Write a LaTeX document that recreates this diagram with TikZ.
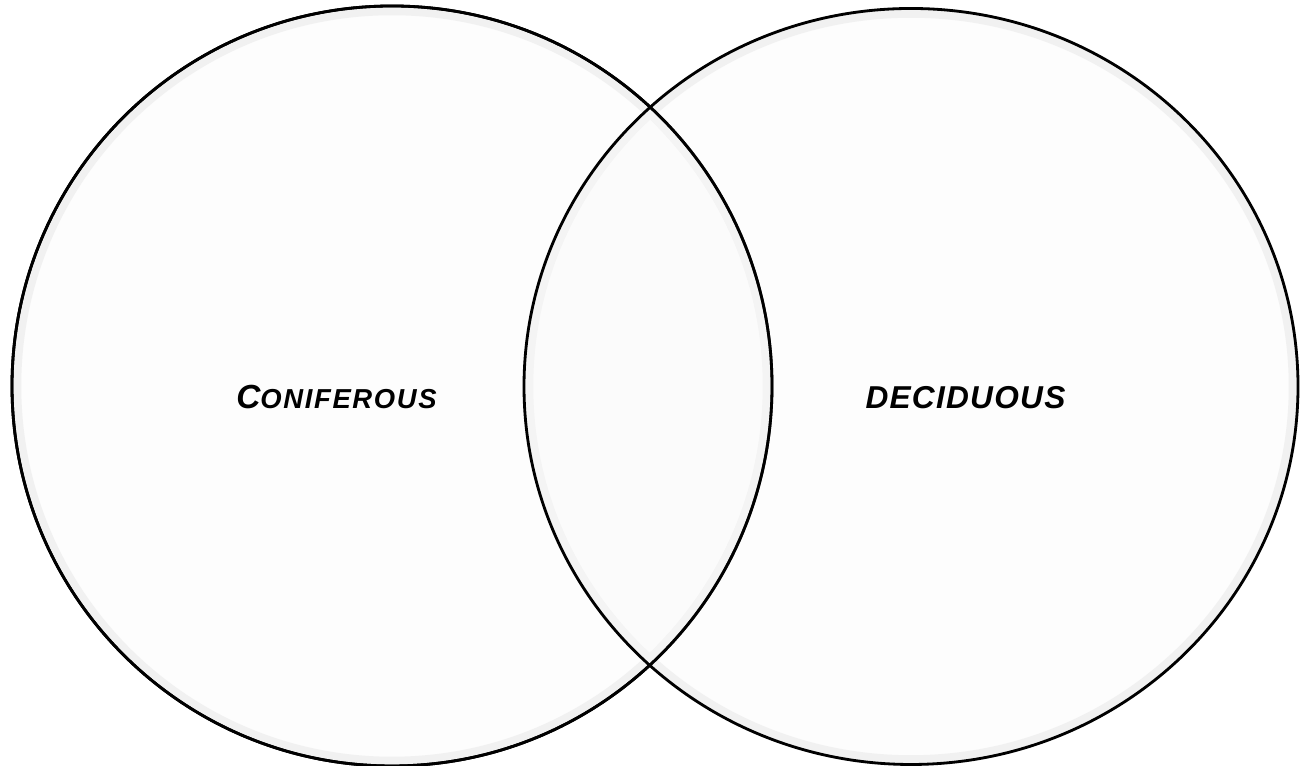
\documentclass[tikz,border=0pt]{standalone}
\usepackage{fontspec}
\usetikzlibrary{shapes.geometric}
\newfontfamily\labelfont[LetterSpace=6]{Liberation Sans}
\newfontfamily\labelfontb[LetterSpace=4]{Liberation Sans}
\tikzset{
  vennset/.style={draw=black, line width=0.8pt, fill=black!2, fill opacity=0.35, inner sep=0pt, outer sep=0pt},
  vennglow/.style={draw=black!7, line width=3pt, inner sep=0pt, outer sep=0pt},
  setlabel/.style={font=\bfseries\itshape, inner sep=0pt, text=black}
}
\begin{document}
\begin{tikzpicture}
\useasboundingbox[fill=white] (0,0) rectangle (13.02,7.66);
% inner soft shading near the edges
\node[vennglow, circle, minimum size=7.52cm] (Lg) at (3.92,3.80) {};
\node[vennglow, ellipse, minimum width=7.66cm, minimum height=7.48cm] (Rg) at (9.11,3.795) {};
\node[vennset, circle, minimum size=7.60cm] (L) at (3.92,3.80) {};
\node[vennset, ellipse, minimum width=7.74cm, minimum height=7.56cm] (R) at (9.11,3.795) {};
\node[draw=black, line width=0.8pt, circle, minimum size=7.60cm, inner sep=0pt] (Lo) at (3.92,3.80) {};
\node[setlabel] (con) at (3.365,3.69) {\labelfont\bfseries\itshape\fontsize{9.5}{11}\selectfont C\fontsize{7.8}{9}\selectfont ONIFEROUS};
\node[setlabel] (dec) at (9.655,3.68) {\labelfontb\bfseries\itshape\fontsize{9.0}{11}\selectfont DECIDUOUS};
\end{tikzpicture}
\end{document}
